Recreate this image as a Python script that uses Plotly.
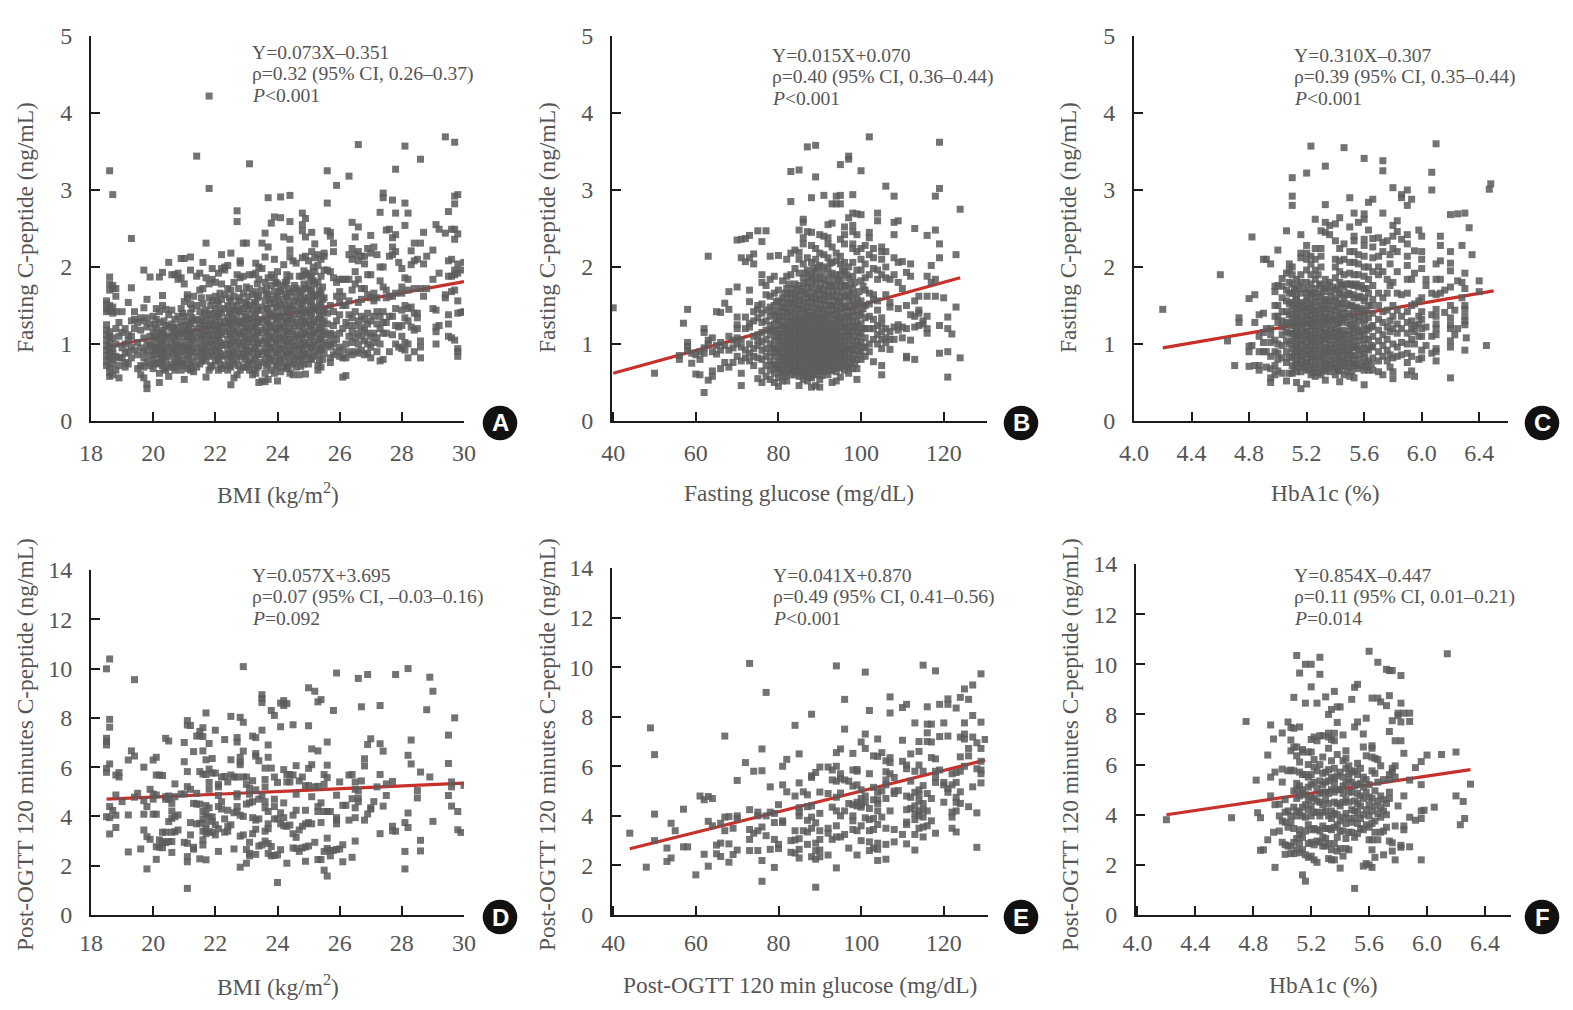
import plotly.graph_objects as go

# Each panel: columns of (x value, [y values])
A_COLS = [
(18.5,[.72,.78,.85,.92,.98,1.05,1.12,1.18,1.25,1.42,1.46,1.52,1.56]),
(18.6,[.58,.63,.7,.82,.9,.96,1.02,1.1,1.16,1.43,1.5,1.7,1.78,1.87,3.25]),
(18.7,[.6,.74,.8,.88,.94,1.08,1.4,1.48,1.72,1.76,2.94]),
(18.8,[.66,.84,1.0,1.2,1.42,1.62,1.72]),(18.9,[.56,.72,.82,1.1,1.28]),(19.0,[.82,.95,1.15,1.42]),
(19.1,[.7,.76,.88,1.0,1.2]),(19.2,[.74,.9,1.05,1.12,1.54]),(19.3,[.82,.96,1.1,1.3,1.73,2.37]),
(19.4,[.92,1.2,1.32,1.42]),(19.5,[.68,.86,1.02,1.28]),(19.6,[.6,.72,.95,1.18,1.34]),
(19.7,[.56,.7,.82,.9,1.08,1.3,1.47,1.96]),(19.8,[.42,.48,.76,.92,1.0,1.22,1.34,1.58]),
(19.9,[.72,.85,.98,1.1,1.26,1.87]),(20.0,[.68,.8,.9,1.02,1.16,1.36]),
(20.1,[.74,.86,.96,1.08,1.2,1.32,1.46]),(20.2,[.5,.62,.76,.88,1.0,1.12,1.28,1.42,1.87]),
(20.3,[.72,.82,.94,1.05,1.18,1.5,1.63,1.93]),(20.4,[.66,.78,.9,1.0,1.1,1.24,1.45]),
(20.5,[.58,.7,.84,.96,1.08,1.22,1.38,2.06]),(20.6,[.74,.88,1.0,1.14,1.26,1.44,1.9]),
(20.7,[.66,.8,.92,1.04,1.18,1.32,1.9]),(20.8,[.72,.84,.96,1.1,1.22,1.36,1.84,1.92]),
(20.9,[.66,.78,.9,1.02,1.14,1.28,1.46,1.86,2.11]),(21.0,[.54,.72,.86,.98,1.1,1.24,1.36,1.55,1.78,2.11]),
(21.1,[.68,.8,.92,1.06,1.18,1.3,1.6,1.64]),(21.2,[.66,.74,.88,1.0,1.12,1.26,1.4,1.52,1.96,2.13]),
(21.3,[.64,.78,.9,1.04,1.16,1.3,1.62]),(21.4,[.7,.84,.96,1.08,1.2,1.32,1.5,1.88,3.44]),
(21.5,[.74,.88,1.0,1.14,1.26,1.42,1.7,1.92]),(21.6,[.82,.94,1.06,1.2,1.34,1.52,1.72,2.06]),
(21.7,[.57,.78,.9,1.02,1.16,1.3,1.44,1.86,2.31]),(21.8,[.66,.84,.96,1.1,1.24,1.38,1.6,1.78,3.02,4.22]),
(21.9,[.72,.86,1.0,1.12,1.26,1.4,1.56,1.84,1.98]),(22.0,[.78,.92,1.04,1.18,1.3,1.46,1.62,1.8]),
(22.1,[.66,.8,.94,1.08,1.2,1.36,1.52,1.92]),(22.2,[.68,.84,.98,1.12,1.24,1.4,1.58,1.78,1.98,2.16]),
(22.3,[.72,.86,1.0,1.16,1.3,1.46,1.64,1.96,2.0]),(22.4,[.66,.8,.94,1.06,1.2,1.34,1.5,1.72,2.02]),
(22.5,[.47,.7,.84,.98,1.12,1.26,1.4,1.56,1.7,2.18]),(22.6,[.56,.74,.88,1.02,1.16,1.3,1.44,1.62,1.8]),
(22.7,[.6,.8,.94,1.08,1.22,1.36,1.5,1.9,2.59,2.73]),(22.8,[.66,.84,.98,1.12,1.26,1.42,1.6,1.86,2.05,2.08]),
(22.9,[.7,.88,1.02,1.16,1.3,1.46,1.66,1.88,2.31]),(23.0,[.7,.84,.96,1.1,1.24,1.38,1.54,1.74,2.31]),
(23.1,[.66,.78,.92,1.06,1.2,1.34,1.5,1.72,1.9,3.34]),(23.2,[.6,.74,.88,1.02,1.14,1.28,1.44,1.64,1.9]),
(23.3,[.62,.8,.94,1.08,1.22,1.36,1.52,1.68,1.92,2.05]),(23.4,[.5,.72,.86,1.0,1.14,1.28,1.44,1.62,1.84,2.0]),
(23.5,[.52,.76,.9,1.04,1.18,1.32,1.48,1.7,1.98,2.31]),(23.6,[.51,.62,.8,.94,1.08,1.22,1.38,1.56,1.8,2.13,2.44]),
(23.7,[.54,.74,.88,1.02,1.16,1.3,1.46,1.64,1.86,2.26,2.9]),(23.8,[.66,.82,.96,1.1,1.24,1.4,1.58,1.76,1.9,2.57]),
(23.9,[.62,.78,.92,1.06,1.2,1.36,1.52,1.68,1.86,2.1,2.65]),(24.0,[.52,.7,.86,1.0,1.14,1.28,1.44,1.6,1.78,1.94]),
(24.1,[.64,.8,.94,1.08,1.22,1.36,1.5,1.7,2.64,2.91]),(24.2,[.7,.84,.98,1.12,1.26,1.42,1.58,1.76,2.03,2.39]),
(24.3,[.68,.88,1.02,1.16,1.3,1.46,1.62,1.82,1.9]),(24.4,[.62,.78,.92,1.06,1.2,1.34,1.48,1.66,1.88,2.13,2.22,2.36,2.59,2.93]),
(24.5,[.6,.74,.88,1.02,1.16,1.32,1.5,1.68,2.08]),(24.6,[.7,.84,.98,1.12,1.28,1.44,1.6,1.72,2.05]),
(24.7,[.6,.78,.92,1.06,1.22,1.38,1.54,1.68,1.88]),(24.8,[.8,.94,1.08,1.22,1.36,1.52,1.7,1.88,2.12,2.47,2.55,2.7]),
(24.9,[.61,.84,.98,1.12,1.26,1.4,1.56,1.72,1.9,2.14,2.39,2.63]),(25.0,[.74,.88,1.02,1.16,1.3,1.44,1.6,1.76,1.92,2.08]),
(25.1,[.8,.96,1.1,1.24,1.4,1.56,1.7,1.88,2.2,2.45]),(25.2,[.9,1.04,1.18,1.32,1.46,1.62,1.78,1.94,2.12,2.3]),
(25.3,[.66,.72,.86,1.0,1.14,1.28,1.44,1.62,1.8,2.02,2.16]),(25.4,[.7,.92,1.06,1.2,1.34,1.5,1.66,1.88,2.1]),
(25.5,[.88,1.02,1.16,1.3,1.44,1.6,1.96,2.14,2.18]),(25.6,[.98,1.12,1.26,1.4,1.96,2.47,2.83,3.25]),
(25.7,[.76,.82,.96,1.04,1.14,1.5,1.94,2.45,2.4]),(25.8,[.86,1.0,1.12,1.24,1.42,1.86,2.31,2.2]),
(25.9,[.9,1.06,1.3,1.62,1.8,3.06]),(26.0,[.84,.96,1.14,1.38,1.54,1.68,1.84]),
(26.1,[.57,.82,.92,1.2,1.5,1.62,1.84]),(26.2,[.59,.82,1.0,1.28,1.5,1.84]),(26.3,[.9,1.1,1.24,1.38,1.56,1.84,2.16,3.18]),
(26.4,[.86,1.02,1.16,1.34,1.7,2.1,2.24,2.58]),(26.5,[.9,1.08,1.24,1.42,1.78,1.94,2.16,2.39]),
(26.6,[.88,1.0,1.14,1.3,1.54,1.84,2.08,2.2,2.52,3.59]),(26.7,[.92,1.1,1.22,1.36,1.58,1.72,2.14]),
(26.8,[.86,1.04,1.18,1.32,1.72,2.04,2.14]),(26.9,[.88,1.0,1.14,1.26,1.4,1.64,1.9,2.24]),
(27.0,[.82,.96,1.1,1.3,1.6,1.9,2.18,2.41]),(27.1,[1.02,1.14,1.36,1.56,1.66,2.26]),
(27.2,[.9,1.08,1.26,1.42,1.6,2.16]),(27.3,[.78,1.0,1.2,1.36,1.82,2.0,2.71]),(27.4,[.8,1.14,1.28,1.42,1.74,2.0,2.9,2.96]),
(27.5,[1.14,1.28,1.6,1.7,2.48]),(27.6,[.9,1.36,1.62,2.14,2.49]),(27.7,[1.12,1.36,1.62,2.16,2.26,2.38,2.87]),
(27.8,[1.0,1.24,1.46,1.66,2.2,2.42,2.7,3.27]),(27.9,[.96,1.22,2.06]),(28.0,[.94,1.1,1.24,1.44,1.66,1.74,1.98]),
(28.1,[.92,1.02,1.34,1.5,1.86,2.54,2.83,3.57]),(28.2,[.82,1.0,1.3,1.46,1.7,1.84,2.7]),(28.3,[1.22,1.48,2.03,2.21]),
(28.4,[.9,1.18,1.4,1.72,2.08,2.31]),(28.5,[1.2,1.34,1.4,2.1]),(28.6,[.82,.96,1.04,1.72,2.31,3.4]),
(28.7,[1.62,2.04,2.45]),(28.8,[1.72,2.14]),(29.0,[1.46,1.84,2.22]),(29.1,[1.16,1.44,1.0,1.22,2.55]),
(29.2,[1.24,1.92,2.49]),(29.4,[1.6,1.64,2.44,3.69]),(29.5,[1.1,1.26,1.38,1.88,2.08,2.72]),
(29.6,[1.08,1.68,1.88,2.1,2.49]),(29.7,[1.05,1.7,1.9,1.96,2.36,2.49,2.82,2.92,3.62]),
(29.8,[.84,.9,.94,1.4,1.56,1.92,2.04,2.43,2.94]),(29.9,[1.41,1.96]),(30.0,[1.42,2.06]),
# denser middle of the cloud
(20.05,[.75,.95,1.1,1.25]),(20.35,[.68,.87,1.13,1.3]),(20.65,[.7,.93,1.09,1.21]),(20.95,[.75,.95,1.18,1.4]),
(21.25,[.7,.94,1.08,1.34,1.46]),(21.55,[.78,.91,1.1,1.3,1.6]),(21.85,[.7,.9,1.05,1.19,1.33,1.5]),(22.15,[.74,.88,1.02,1.15,1.28,1.44,1.66]),
(22.45,[.72,.87,1.0,1.13,1.27,1.42,1.6]),(22.75,[.72,.88,1.02,1.15,1.29,1.44,1.56,1.72]),(23.05,[.74,.9,1.03,1.17,1.31,1.46,1.62]),
(23.35,[.7,.87,1.01,1.15,1.29,1.44,1.6,1.78]),(23.65,[.71,.87,1.01,1.15,1.29,1.46,1.64,1.72]),(23.95,[.72,.89,1.03,1.17,1.32,1.48,1.62,1.8]),
(24.25,[.76,.91,1.05,1.19,1.34,1.5,1.66,1.8]),(24.55,[.8,.95,1.09,1.24,1.4,1.56,1.76]),(24.85,[.74,.88,1.01,1.15,1.29,1.44,1.6,1.78,1.95]),
(25.15,[.84,.99,1.14,1.28,1.48,1.64,1.82,2.0]),(25.45,[.8,.96,1.12,1.26,1.42,1.58,1.74]),
(20.25,[.8,.92,1.03,1.15]),(20.75,[.76,.87,.99,1.13]),(21.15,[.84,.96,1.1,1.22]),(21.65,[.86,.98,1.12,1.24,1.4]),
(22.05,[.85,.97,1.11,1.24,1.38,1.56]),(22.55,[.79,.91,1.05,1.19,1.33,1.48]),(22.95,[.8,.93,1.07,1.21,1.35,1.52]),
(23.25,[.67,.81,.95,1.09,1.23,1.38,1.54]),(23.75,[.8,.95,1.09,1.23,1.38,1.54]),(24.05,[.77,.93,1.07,1.21,1.35,1.53,1.68]),
(24.35,[.71,.85,.98,1.12,1.27,1.41,1.57,1.72]),(24.75,[.71,.85,.99,1.13,1.3,1.46,1.62]),(25.05,[.81,.95,1.09,1.23,1.37,1.52,1.68,1.85]),
(25.35,[.79,.93,1.07,1.21,1.37,1.53,1.7]),
]
A_LINE_X = [18.7, 30]
A_LINE_Y = [0.98, 1.81]

B_COLS = [
(40,[1.47]),(50,[.62]),(56,[.8,.85]),(57,[1.27]),(58,[.92,.97,1.02,1.45]),(59,[.75,.88]),
(60,[.61,.86]),(61,[.6,.8,.9]),(62,[.37,.88,.95,1.15,1.2]),(63,[.53,1.0,1.05,2.14]),(64,[.58,.65,.9,1.08]),
(65,[.87,.98,1.42]),(66,[.68,.92,1.02,1.41]),(67,[.76,.98,1.53]),(68,[.7,.92,1.1,1.45,1.68]),(69,[.76,.95,1.05]),
(70,[.84,1.0,1.08,1.2,1.25,1.35,1.74,2.35]),(71,[.46,.62,.78,.96,1.05,2.12,2.36]),(72,[.82,.92,1.2,1.35,2.07,2.37]),
(73,[.78,.88,1.0,1.22,1.27,1.55,1.7,2.12,2.41]),(74,[.72,.84,.94,1.1,1.42,1.3,2.04,2.17]),
(75,[.55,.82,.98,1.05,1.12,1.34,1.45,1.5,2.47]),(76,[.5,.65,.8,.92,1.03,1.15,1.28,1.4,1.52,1.8,1.9,2.33]),
(77,[.58,.72,.84,.94,1.06,1.18,1.3,1.44,1.64,1.76,2.47]),(78,[.54,.66,.78,.88,1.0,1.12,1.24,1.36,1.48,1.62,1.84,2.14]),
(79,[.5,.62,.74,.84,.94,1.04,1.16,1.26,1.38,1.5,1.66,1.88]),(80,[.45,.56,.68,.78,.88,.98,1.08,1.18,1.3,1.42,1.56,1.7,2.15]),
(81,[.52,.64,.74,.84,.94,1.04,1.14,1.24,1.36,1.48,1.6,1.82]),(82,[.52,.62,.72,.82,.92,1.02,1.12,1.22,1.34,1.46,1.58,1.72,1.88,2.1]),
(83,[.6,.7,.8,.9,1.0,1.1,1.2,1.3,1.42,1.54,1.66,1.9,2.18,2.85,3.24]),(84,[.6,.7,.8,.9,1.0,1.1,1.2,1.3,1.4,1.52,1.64,1.78,1.98,2.22]),
(85,[.46,.58,.68,.78,.88,.98,1.08,1.18,1.28,1.38,1.5,1.62,1.76,1.92,2.1,2.19,2.48,3.26]),
(86,[.54,.64,.74,.84,.94,1.04,1.14,1.24,1.34,1.46,1.58,1.72,1.86,2.04,2.3,2.38,2.58,2.62]),
(87,[.52,.62,.72,.82,.92,1.02,1.12,1.22,1.32,1.42,1.54,1.66,1.8,1.96,2.12,2.46,3.56]),
(88,[.44,.56,.66,.76,.86,.96,1.06,1.16,1.26,1.36,1.48,1.6,1.74,1.9,2.06,2.28,2.45,2.9]),
(89,[.46,.6,.7,.8,.9,1.0,1.1,1.2,1.3,1.4,1.52,1.64,1.78,1.94,2.1,2.24,3.17,3.58]),
(90,[.44,.54,.66,.76,.86,.96,1.06,1.16,1.26,1.36,1.46,1.58,1.72,1.86,2.02,2.18,2.42]),
(91,[.64,.74,.84,.94,1.04,1.14,1.24,1.34,1.44,1.56,1.7,1.84,2.0,2.16,2.4,2.93]),
(92,[.6,.72,.82,.92,1.02,1.12,1.22,1.32,1.44,1.56,1.68,1.82,1.98,2.12,2.3,2.38,2.55]),
(93,[.5,.66,.76,.86,.96,1.06,1.16,1.26,1.38,1.5,1.62,1.76,1.92,2.06,2.26,2.57,2.82]),
(94,[.52,.64,.74,.84,.94,1.04,1.14,1.24,1.36,1.48,1.62,1.76,1.9,2.08,2.18,2.82,2.92]),
(95,[.57,.7,.8,.9,1.0,1.1,1.22,1.34,1.46,1.6,1.74,1.9,2.04,2.14,2.36,2.82,2.93,3.33]),
(96,[.66,.78,.88,.98,1.1,1.22,1.34,1.48,1.62,1.76,1.94,2.06,2.3,2.42,2.52]),
(97,[.62,.7,.82,.94,1.06,1.18,1.3,1.42,1.56,1.7,1.86,2.0,2.64,3.4,3.44]),
(98,[.68,.8,.92,1.04,1.16,1.28,1.42,1.56,1.72,1.88,2.06,2.24,2.3,2.46,2.54,2.7,2.94]),
(99,[.54,.68,.8,.92,1.04,1.16,1.3,1.44,1.6,1.96,2.2,2.42,2.69]),
(100,[.8,.9,1.02,1.14,1.26,1.4,1.56,1.82,1.96,2.1,2.24,2.68,3.25]),
(101,[.84,.96,1.08,1.2,1.34,1.5,1.7,1.86,2.04,2.28]),(102,[.9,1.0,1.2,1.36,1.52,1.66,1.9,2.16,2.38,2.45,3.69]),
(103,[.77,1.06,1.2,1.32,1.58,1.64,1.98,2.12,2.24]),(104,[1.0,1.12,1.24,1.44,1.56,1.84,1.96,2.6,2.7]),
(105,[.6,.72,.94,1.06,1.16,1.26,1.34,1.9,2.1,2.2,2.26]),(106,[1.02,1.08,1.2,1.64,1.86,2.0,2.2,3.05]),
(107,[.93,1.06,1.16,1.48,1.54,1.84]),(108,[1.06,1.22,1.9,2.12,2.42,2.58,2.92]),
(109,[1.18,1.25,1.46,1.8,2.06,2.6]),(110,[1.08,1.22,1.72,2.07]),(111,[.82,.84,1.2,1.5,1.93]),
(112,[1.05,1.38,1.88,2.04]),(113,[.8,1.22,1.36,1.56,2.5]),(114,[1.24,1.4,1.44,1.62]),
(115,[1.3,1.26]),(116,[1.14,1.2,1.36,1.62,1.88,2.41]),(117,[1.8,2.02]),(118,[1.62,1.84,2.48,2.92]),
(119,[.88,1.24,2.12,2.3,3.02,3.62]),(120,[1.6]),(121,[.57,.9,1.2,1.35]),(122,[1.13]),(123,[1.48,2.16]),(124,[.82,2.75]),
# denser core of the cloud
(78.5,[.72,.95,1.18,1.42]),(79.5,[.68,.9,1.1,1.32,1.55]),(80.5,[.62,.83,1.03,1.24,1.47]),(81.5,[.58,.79,.99,1.19,1.42,1.66]),
(82.5,[.67,.87,1.07,1.28,1.52,1.78]),(83.5,[.65,.85,1.05,1.25,1.48,1.72]),(84.5,[.65,.85,1.05,1.25,1.46,1.7]),
(85.5,[.63,.83,1.03,1.23,1.44,1.68]),(86.5,[.59,.79,.99,1.19,1.4,1.65,1.92]),(87.5,[.57,.77,.97,1.17,1.37,1.6,1.87]),
(88.5,[.61,.81,1.01,1.21,1.42,1.67,1.98]),(89.5,[.65,.85,1.05,1.25,1.46,1.7,2.0]),(90.5,[.59,.79,.99,1.19,1.39,1.64,1.92]),
(91.5,[.69,.89,1.09,1.29,1.5,1.77]),(92.5,[.66,.87,1.07,1.27,1.5,1.75,2.05]),(93.5,[.71,.91,1.11,1.32,1.56,1.84]),
(94.5,[.69,.89,1.09,1.3,1.55,1.83]),(95.5,[.75,.95,1.16,1.4,1.67,1.97]),(96.5,[.72,.93,1.14,1.36,1.62,1.9]),
(97.5,[.76,.98,1.22,1.49,1.78]),(98.5,[.74,.98,1.22,1.5,1.8]),(99.5,[.86,1.1,1.37,1.68]),(100.5,[.96,1.2,1.46,1.75]),
(80.2,[.73,.93,1.13,1.36]),(81.2,[.69,.89,1.09,1.3,1.54]),(82.2,[.77,.97,1.17,1.4,1.65]),(83.2,[.75,.95,1.15,1.36,1.6]),
(84.2,[.75,.95,1.15,1.35,1.58]),(85.2,[.73,.93,1.13,1.33,1.56]),(86.2,[.69,.89,1.09,1.29,1.52,1.79]),(87.2,[.67,.87,1.07,1.27,1.48,1.73]),
(88.2,[.71,.91,1.11,1.31,1.54,1.82]),(89.2,[.75,.95,1.15,1.35,1.58,1.86]),(90.2,[.69,.89,1.09,1.29,1.52,1.79]),(91.2,[.79,.99,1.19,1.39,1.63]),
(92.2,[.77,.97,1.17,1.38,1.62,1.9]),(93.2,[.81,1.01,1.21,1.44,1.7]),(94.2,[.79,.99,1.19,1.42,1.69]),(95.2,[.85,1.05,1.28,1.53,1.82]),
(96.2,[.83,1.04,1.25,1.49,1.76]),(97.2,[.88,1.1,1.35,1.63]),(98.2,[.86,1.1,1.36,1.65]),(99.2,[.98,1.23,1.52]),
]
B_LINE_X = [40, 124]
B_LINE_Y = [0.62, 1.86]

C_COLS = [
(4.2,[1.45]),(4.6,[1.9]),(4.65,[1.04]),(4.7,[.72]),(4.73,[1.28,1.34]),(4.8,[.71,.9,.97,1.59]),(4.82,[.98,2.39]),
(4.84,[.72,1.28,1.64]),(4.87,[.66,.72,.9,1.1,1.38]),(4.9,[.9,1.02,1.15,1.4,2.1]),(4.92,[.7,.9,1.2,2.1]),
(4.95,[.5,.56,.68,.84,1.02,1.12,1.2,2.04]),(4.98,[.6,.72,.9,1.05,1.36,1.5,1.68,1.75]),
(5.0,[.65,.8,.88,1.0,1.28,1.36,1.5,1.76,2.22]),(5.03,[.62,.82,.98,1.12,1.22,1.3,1.42,1.6,1.75,1.85]),
(5.06,[.52,.76,.9,1.04,1.16,1.28,1.42,1.56,1.7,1.92,2.47]),(5.08,[.62,.82,1.0,1.14,1.26,1.38,1.52,1.66,1.8,1.96,2.04]),
(5.1,[.62,.72,.84,.94,1.04,1.14,1.24,1.34,1.44,1.54,1.66,1.78,1.9,2.0,2.8,2.92,3.16]),
(5.13,[.5,.64,.76,.86,.96,1.06,1.16,1.26,1.36,1.46,1.58,1.7,1.84]),
(5.16,[.42,.64,.74,.84,.94,1.04,1.14,1.24,1.34,1.44,1.54,1.66,1.8,1.9,2.12,2.42,2.18]),
(5.2,[.48,.66,.76,.86,.96,1.06,1.16,1.26,1.36,1.46,1.56,1.66,1.8,1.96,2.1,2.18,2.28,3.22]),
(5.23,[.6,.72,.82,.92,1.02,1.12,1.22,1.32,1.42,1.52,1.64,1.78,1.9,2.04,2.14,3.57]),
(5.26,[.58,.68,.78,.88,.98,1.08,1.18,1.28,1.38,1.48,1.6,1.72,1.84,1.96,2.1,2.24,2.62]),
(5.3,[.6,.7,.8,.9,1.0,1.1,1.2,1.3,1.4,1.5,1.62,1.76,2.0,2.14,2.24,2.47]),
(5.33,[.53,.66,.76,.86,.96,1.06,1.16,1.26,1.36,1.46,1.58,1.72,1.84,2.45,2.58,2.81,3.31]),
(5.36,[.64,.74,.84,.94,1.04,1.14,1.24,1.34,1.44,1.56,1.68,1.8,2.42,2.54]),
(5.4,[.6,.7,.8,.9,1.0,1.1,1.2,1.32,1.44,1.56,1.7,1.86,2.0,2.1,2.34,2.56]),
(5.43,[.51,.66,.76,.86,.96,1.06,1.16,1.28,1.4,1.52,1.66,1.8,1.94,2.08,2.24,2.64]),
(5.46,[.6,.72,.82,.92,1.02,1.12,1.34,1.46,1.6,1.74,1.9,2.1,2.3,3.55]),
(5.5,[.58,.7,.8,.9,1.0,1.12,1.24,1.36,1.5,1.64,1.78,1.92,2.06,2.2,2.52,2.9]),
(5.53,[.56,.72,.84,.96,1.08,1.2,1.32,1.46,1.6,1.76,1.9,2.06,2.2,2.4,2.34,2.7]),
(5.56,[.68,.8,.92,1.04,1.16,1.3,1.44,1.6,1.74,1.9,2.04,2.16,2.58]),
(5.6,[.47,.66,.76,.88,1.0,1.12,1.26,1.4,1.56,1.72,1.88,2.0,2.14,2.28,2.36,2.62,2.69,3.41]),
(5.63,[.66,.78,.92,1.06,1.2,1.34,1.5,1.66,1.84,2.0,2.48,2.84]),
(5.66,[.66,.82,.96,1.1,1.24,1.4,1.58,1.76,1.94,2.12,2.26,2.37,2.88]),
(5.7,[.64,.78,.9,1.04,1.18,1.32,1.5,1.66,1.9,2.0,2.14,2.38]),
(5.73,[.6,.84,.98,1.12,1.28,1.42,1.6,1.94,2.2,2.32,2.7,3.25,3.38]),
(5.76,[.78,.92,1.06,1.22,1.44,1.66,1.84,2.34]),(5.78,[.7,.86,1.16,1.3,1.76,2.04,2.16]),
(5.8,[.55,.64,.82,1.0,1.2,1.36,1.5,1.8,2.24,2.4,2.54,3.03]),(5.83,[.84,.96,1.14,1.26,1.44,1.66,1.94,2.2,2.46,2.6]),
(5.86,[.86,1.02,1.2,1.36,1.64,2.36,2.9,2.94]),(5.9,[.6,.76,.88,1.0,1.14,1.28,1.42,1.66,1.84,2.02,2.14,2.3,2.42,2.8,3.0]),
(5.93,[.65,.84,1.06,1.2,1.3,1.5,1.84,2.88]),(5.95,[.58,1.0,1.16,1.24,1.52,1.92,2.21]),
(5.98,[.8,1.1,1.26,1.36,1.56,2.48]),(6.0,[.82,.92,1.1,1.2,1.32,1.42,1.6,1.98,2.1,2.2,2.4]),
(6.03,[.98,1.22,1.76,1.84]),(6.07,[.88,1.1,1.38,1.66,3.0,3.23]),(6.1,[.78,.9,.94,1.12,1.2,1.26,1.36,1.45,1.64,1.84,2.04,3.6]),
(6.13,[1.66,1.84,2.08,2.28,2.4]),(6.16,[1.41,1.7]),(6.2,[.56,.96,1.04,1.25,1.2,1.34,1.5,1.74,1.95,2.05,2.2,2.68]),
(6.23,[1.12,1.44]),(6.25,[1.2,1.82,2.69]),(6.3,[.92,1.25,1.3,1.36,1.45,1.5,1.72,1.92,2.7]),
(6.31,[1.08]),(6.33,[2.51]),(6.35,[2.16]),(6.28,[1.6,1.8,2.28]),(6.4,[1.68,1.82]),(6.45,[.98]),(6.47,[3.01]),(6.48,[3.08]),
# denser core of the cloud
(5.115,[.69,.89,1.09,1.29,1.5,1.72]),(5.145,[.7,.9,1.11,1.31,1.52,1.76]),(5.18,[.7,.9,1.1,1.3,1.5,1.72]),(5.215,[.67,.87,1.07,1.27,1.47,1.7]),
(5.245,[.63,.83,1.03,1.23,1.43,1.66]),(5.28,[.63,.83,1.03,1.23,1.43,1.66,1.9]),(5.315,[.65,.85,1.05,1.25,1.45,1.68]),(5.345,[.71,.91,1.11,1.31,1.52,1.76]),
(5.38,[.69,.89,1.09,1.29,1.5,1.74]),(5.415,[.65,.85,1.05,1.26,1.48,1.72]),(5.445,[.71,.91,1.11,1.3,1.53,1.77]),(5.48,[.65,.86,1.06,1.28,1.52,1.78]),
(5.515,[.64,.85,1.05,1.26,1.5,1.77]),(5.545,[.74,.98,1.22,1.48,1.78]),(5.58,[.72,.94,1.18,1.46,1.76]),(5.615,[.7,.94,1.18,1.44,1.72]),
(5.65,[.74,.98,1.22,1.5]),
(5.125,[.79,.99,1.19,1.4,1.62]),(5.17,[.8,1.0,1.2,1.41]),(5.205,[.77,.97,1.17,1.37,1.6]),(5.25,[.73,.93,1.13,1.33,1.55]),
(5.29,[.73,.93,1.13,1.33,1.55,1.78]),(5.325,[.75,.95,1.15,1.35,1.56]),(5.37,[.79,.99,1.19,1.4,1.62]),(5.405,[.75,.95,1.15,1.37,1.6]),
(5.45,[.78,.98,1.18,1.4,1.64]),(5.49,[.75,.95,1.16,1.4,1.66]),(5.525,[.75,.95,1.15,1.38,1.64]),(5.57,[.86,1.1,1.35,1.62]),(5.605,[.82,1.06,1.32,1.6]),
]
C_LINE_X = [4.2, 6.5]
C_LINE_Y = [0.95, 1.69]

D_COLS = [
(18.5,[3.99,5.79,5.95,6.9,7.04,7.17,9.99]),(18.6,[3.29,3.95,4.4,6.13,7.62,7.94,10.39]),(18.7,[4.24]),
(18.8,[3.55,4.05,4.87,5.68]),(18.9,[5.6,5.78]),(19.0,[4.6]),(19.2,[2.56,4.06,6.29]),(19.3,[6.66]),
(19.4,[4.78,6.45,9.55]),(19.5,[4.94]),(19.6,[2.68]),(19.7,[3.45,4.09,4.64,6.0]),(19.8,[1.87,3.18,4.4]),
(19.9,[3.07,5.1]),(20.0,[4.09,4.7,4.91,6.29]),(20.1,[2.26,2.77,4.09,4.87,5.68,6.4]),(20.2,[2.75,3.05,5.68]),
(20.3,[2.73,2.98,3.36,5.66]),(20.4,[2.94,3.36,4.7,4.8,7.17]),(20.5,[2.98,3.79,4.7,4.83,7.06]),
(20.6,[2.54,2.98,3.36,3.92,4.22,4.53]),(20.7,[3.38,3.99,4.8,5.32]),(20.8,[3.45,4.06]),(20.9,[4.91]),
(21.0,[2.95,4.91,6.22,7.0]),(21.1,[1.08,2.16,2.37,2.91,5.21,5.82,7.71,7.89]),(21.2,[3.25,3.75,5.1,7.69]),
(21.3,[2.67,2.75,4.53,6.63]),(21.4,[3.7,4.5,4.94,7.26]),(21.5,[2.28,3.72,4.5,5.82,7.28,7.45]),
(21.6,[2.84,3.05,3.4,3.9,4.2,5.72,6.66,7.24,7.6]),(21.7,[2.24,3.3,3.48,3.7,4.1,4.44,5.7,6.3,8.2]),
(21.8,[3.38,3.98,4.35,5.1,5.38,5.92,6.96]),(21.9,[3.35,3.8,3.98,5.76,6.35]),(22.0,[3.25,3.66,5.76,7.5]),
(22.1,[2.58,3.5,4.4,4.85,5.2,5.3]),(22.2,[4.3,4.6,5.6]),(22.3,[3.36,3.9,7.12,5.62]),(22.4,[3.4,3.6,4.25,5.4]),
(22.5,[3.66,5.68,6.3,8.06]),(22.6,[2.68,4.15,5.6]),(22.7,[4.2,4.4,4.8,4.92,7.02,7.2,5.6]),
(22.8,[1.94,3.2,4.05,6.1,6.2,6.4,8.02]),(22.9,[3.25,4.0,5.6,6.65,7.82,10.08]),(23.0,[2.1,2.66,4.5,5.3,5.6]),
(23.1,[2.4,2.5,2.95,4.55,4.9,5.15]),(23.2,[3.3,3.95,4.6,5.45,7.26]),(23.3,[2.46,3.48,3.85,5.08,6.45,6.55,7.2]),
(23.4,[2.8,3.9,4.7,6.26]),(23.5,[2.84,4.85,7.5,8.62,8.78,8.94]),(23.6,[3.0,3.4,4.35,4.6,5.2,5.5,5.96]),
(23.7,[2.5,2.9,3.5,3.7,4.2,6.4,6.9]),(23.8,[2.4,2.78,5.96,8.3]),(23.9,[2.42,3.9,4.4,4.7,5.6,8.1]),
(24.0,[1.32,2.44,3.9,5.38]),(24.1,[2.65,3.7,4.15,7.64,8.6]),(24.2,[3.62,3.95,4.55,5.9,8.5,8.7]),
(24.3,[2.1,3.6,5.4,5.7,8.58]),(24.4,[3.65,5.4,5.7]),(24.5,[2.72,3.3,4.05,5.68,7.72]),(24.6,[2.7,3.15,4.25,4.9,6.06]),
(24.7,[2.58,3.45,5.44]),(24.8,[3.6,2.72,5.6]),(24.9,[2.18,2.76,3.7,4.25,5.25]),(25.0,[2.8,3.75,5.25,5.95,7.68,9.22]),
(25.1,[3.7,4.8,6.1,6.74]),(25.2,[2.95,5.2,9.08]),(25.3,[2.25,4.2,4.4,5.22,6.66,8.65]),(25.4,[2.25,3.75,4.55,8.74]),
(25.5,[1.82,2.58,4.2,5.3,5.7]),(25.6,[1.58,2.7,3.12,4.2,5.58,6.08,7.02]),(25.7,[2.4,2.62,4.2]),
(25.8,[2.62,8.3]),(25.9,[2.66,3.7,3.86,3.95,4.86,9.82]),(26.0,[2.68,5.4]),(26.1,[2.16,2.85,4.45]),
(26.2,[4.45]),(26.3,[3.85,5.68]),(26.4,[2.34,4.72,5.7]),(26.5,[3.0,3.95,4.35,5.1,5.4]),(26.6,[4.6,4.75,5.05,9.6]),
(26.7,[5.44,8.45]),(26.8,[3.85,6.05,6.34]),(26.9,[4.1,6.92,9.76]),(27.0,[4.3,4.35,7.15]),(27.1,[4.6]),
(27.2,[5.2]),(27.3,[3.3,5.7,6.95,8.5]),(27.4,[4.42,6.65]),(27.5,[4.85,5.32]),(27.7,[3.42,3.6,5.42]),(27.8,[3.4,9.76]),
(28.1,[1.87,2.58,3.75]),(28.2,[3.55,4.14,6.48,10.0]),(28.3,[6.13,7.1]),(28.5,[4.75,5.05]),(28.6,[2.6,3.03,5.8]),
(28.8,[8.33]),(28.9,[5.6,9.65]),(29.0,[3.8,9.08]),(29.5,[4.85,6.15,7.3]),(29.6,[4.42,5.2,5.4]),(29.7,[8.0]),(29.8,[3.46,4.2]),(29.9,[3.35]),(30.0,[5.26]),
]
D_LINE_X = [18.5, 30]
D_LINE_Y = [4.7, 5.35]

E_COLS = [
(44,[3.3]),(48,[1.93]),(49,[7.55]),(50,[3.0,4.07,6.47]),(53,[2.16,2.7]),(54,[2.3,3.7]),(55,[3.4]),(57,[2.75,4.27]),(58,[2.75]),
(60,[1.62]),(61,[4.8]),(62,[2.45,4.65]),(63,[1.97,3.78,4.78]),(64,[3.6,4.7]),(65,[2.47,2.82]),(66,[2.36,2.9,3.7]),
(67,[3.4,3.95,7.22]),(68,[2.13,2.87,3.97]),(69,[2.44,3.5]),(70,[2.62,3.9,4.0,5.43]),(72,[6.15]),(73,[2.6,3.05,3.45,4.25,10.15]),
(74,[3.3,5.8]),(75,[2.6,3.4,4.15,4.0]),(76,[1.36,2.2,3.55,5.82,6.7]),(77,[3.2,4.0,8.98]),(78,[2.65,4.15,5.17]),
(79,[1.92,3.05,3.73,4.1]),(80,[2.68,2.85,4.45]),(81,[3.73,3.8,5.25,6.0]),(82,[4.97,6.28]),(83,[2.53,3.0]),
(84,[2.5,3.03,3.4,4.8,7.65]),(85,[2.3,2.65,3.08,4.0,4.15,4.33,5.33,6.5]),(86,[3.4,4.97]),(87,[2.85,3.35,3.82,4.37,4.85]),
(88,[2.35,3.5,3.95,4.4,5.55,5.62,8.1]),(89,[1.12,2.25,2.6,2.9,3.72,5.75]),(90,[2.35,2.62,3.05,3.4,4.1,4.96,5.97]),
(92,[2.42,3.3,3.5,4.9,5.97]),(93,[3.05,4.35,5.45,5.85]),(94,[1.9,3.15,3.6,4.2,4.75,5.4,6.0,6.55,10.05]),
(95,[3.15,4.0,4.92,5.5,5.7,6.7]),(96,[3.25,4.2,5.45,7.5,8.7]),(97,[2.7,4.5,5.4]),(98,[3.45,3.8,4.0,4.45,5.2,5.85,6.52]),
(99,[2.42,3.4,4.4,4.55,5.25,5.8,5.87]),(100,[3.0,3.6,4.35,4.7,5.05,4.45,6.98]),(101,[3.92,4.55,4.8,6.72,7.3,9.8]),
(102,[2.6,2.95,3.4,3.85,4.3,5.7,8.25]),(103,[2.7,3.45,3.9,4.65,5.15,6.42]),(104,[2.2,2.65,2.9,3.65,4.2,4.5,4.65,4.95,6.4,7.1]),
(105,[3.95,5.0,6.55]),(106,[2.25,2.85,3.5,4.7,5.25,5.45,5.78,6.22]),(107,[4.2,5.7,6.15,6.35,8.15,8.8]),
(108,[2.95,3.45,4.9,5.0,5.55]),(109,[5.02]),(110,[3.25,7.05,8.37,6.2]),(111,[2.87,3.65,3.75,4.25,4.8,5.9,6.05,8.5]),
(112,[4.3,4.75,5.4,6.5]),(113,[2.62,3.25,3.85,4.1,4.4,4.95,5.8,7.75]),(114,[3.5,4.0,4.2,4.6,4.85,5.05,6.05,6.6,7.0]),
(115,[3.15,3.55,3.95,4.25,4.5,5.22,5.8,10.08]),(116,[3.6,4.2,4.9,7.0,7.35,7.7,8.4]),(117,[3.8,4.7,6.35,7.7,6.98]),
(118,[3.3,5.35,5.55,5.8,6.3,9.85]),(119,[5.85,7.2,8.5]),(120,[4.55,5.25,5.35,7.75]),(121,[4.95,5.1,7.22,8.5,8.72]),
(122,[3.5,3.95,4.15,5.25,5.7]),(123,[3.35,4.2,4.55,4.75,5.35,5.75,8.35]),(124,[4.5,4.97,5.8,6.38,7.18,8.78]),
(125,[6.0,7.1,7.3,7.75,9.12]),(126,[4.37,6.42,6.72,8.7]),(127,[5.17,7.18,8.05,9.28]),(128,[2.73,4.12,5.9,6.95]),
(129,[5.33,5.7,5.85,6.2,6.72,7.78,9.73]),(130,[7.08]),
]
E_LINE_X = [44, 130]
E_LINE_Y = [2.67, 6.25]

F_COLS = [
(4.2,[3.8]),(4.65,[3.88]),(4.75,[7.72]),(4.82,[5.38]),(4.83,[4.08]),(4.85,[2.58,3.88]),(4.87,[2.6]),
(4.9,[3.0,6.38]),(4.92,[4.75,5.5,7.58]),(4.94,[3.3,7.02]),(4.95,[1.9,4.4,5.7]),(4.98,[3.35,3.95,4.42]),(5.0,[2.9,3.75,5.3,5.82,7.26]),
(5.02,[2.42,2.8,3.7,4.1,4.6]),(5.04,[2.75,3.5,4.15,5.75,7.7]),(5.06,[2.45,2.75,3.7,3.95,5.78,6.55,6.98,7.48]),
(5.08,[2.45,2.9,3.45,4.3,4.95,5.75,6.7,7.45,8.68]),(5.1,[2.6,3.05,3.95,4.15,4.65,5.0,5.25,6.35,6.7,10.35]),
(5.12,[2.48,2.85,3.2,3.4,4.1,4.75,5.15,5.7,9.65,7.5,6.1]),(5.14,[1.6,2.6,3.1,3.95,4.3,4.85,5.0,5.6,6.5,6.6]),
(5.16,[1.35,2.4,3.35,3.9,4.4,4.8,5.6,8.45,10.0]),(5.18,[2.3,2.85,3.6,4.2,4.6,5.1,5.5,6.5,6.0]),
(5.2,[2.35,2.9,3.4,3.95,4.35,4.7,5.2,5.6,6.5,7.0,9.1,10.0]),(5.22,[2.2,2.8,3.45,4.1,4.65,5.3,5.9,7.1,6.2]),
(5.24,[2.1,2.95,3.4,4.1,4.55,5.05,5.75,6.95,8.45]),(5.26,[2.9,3.35,3.95,4.5,4.85,5.35,6.0,7.15,9.6,10.28]),
(5.28,[2.75,3.1,3.55,4.1,4.4,4.9,5.2,5.65,6.3,7.15]),(5.3,[2.75,3.05,3.45,4.15,4.6,4.9,5.3,5.7,8.7]),
(5.32,[2.25,2.85,3.45,3.95,4.45,4.85,5.35,5.8,6.65,8.0,7.1,7.25]),(5.34,[2.2,2.6,3.4,3.85,4.15,5.0,5.5,6.15,7.0,8.2]),
(5.36,[2.2,2.85,3.5,4.05,4.5,4.9,5.25,5.45,5.85,6.95,7.25,8.92]),(5.38,[2.55,3.1,3.6,4.0,4.45,5.0,5.55,6.4,7.68,8.3]),
(5.4,[1.87,2.65,3.35,3.75,4.35,5.0,5.7,8.3]),(5.42,[2.35,3.35,3.9,4.5,4.85,5.15,5.5,6.15,7.18]),
(5.44,[2.65,3.05,3.65,4.05,4.6,5.25,5.85,6.55,6.25]),(5.46,[2.6,3.3,3.85,4.5,4.9,5.4,5.95,5.65]),
(5.48,[3.3,3.7,4.2,4.9,5.3,5.7,8.6]),(5.5,[1.06,3.1,3.85,4.15,4.55,5.15,5.75,7.5,9.08]),
(5.52,[3.25,3.65,4.1,4.45,4.85,5.2,5.6,6.05,7.7,9.2]),(5.54,[3.45,3.85,4.35,4.75,5.25,5.85]),
(5.56,[1.95,3.4,4.0,4.65,5.1,5.5,6.7,7.22]),(5.58,[2.05,3.6,4.2,4.9,5.4,6.35,7.85]),(5.6,[2.0,3.0,3.5,3.95,4.4,4.7,5.2,10.52]),
(5.62,[1.9,2.6,3.0,3.65,4.15,4.65,5.75,6.3,6.65,6.75,8.65]),(5.64,[2.3,3.3,3.75,4.35,4.95,5.65,6.25]),
(5.66,[3.0,4.05,4.55,5.3,6.2,8.65,10.08]),(5.68,[3.3,3.9,4.3,4.75,5.95,8.5]),(5.7,[2.4,3.35,4.15,4.6,5.4]),
(5.72,[4.0,4.45,3.5,8.35,9.8]),(5.74,[2.95,4.65,4.9,5.4,5.6,7.32,8.75,9.75]),(5.76,[2.55,2.88,5.7,5.85,7.75,9.75]),
(5.78,[2.2,3.55,5.5,5.95,6.95]),(5.8,[4.35,7.95,8.05]),(5.82,[2.7,2.78,7.7,6.95,8.45,9.55]),(5.84,[3.4,3.55,4.75,6.45,8.05]),
(5.88,[2.72,3.9,7.72,8.05,5.38]),(5.92,[3.78,5.88]),(5.96,[2.2,4.15,3.85,5.2,6.12]),(5.98,[4.18]),(6.0,[6.38]),(6.05,[4.3]),
(6.1,[6.4]),(6.14,[10.42]),(6.2,[4.75,6.5]),(6.23,[3.6]),(6.25,[4.53]),(6.26,[3.85]),(6.3,[5.22]),
]
F_LINE_X = [4.2, 6.3]
F_LINE_Y = [4.0, 5.8]

# Axis contents
Y_TICKS_TOP = [0, 1, 2, 3, 4, 5]
Y_TICKS_BOTTOM = [0, 2, 4, 6, 8, 10, 12, 14]
BMI_TICKS = [18, 20, 22, 24, 26, 28, 30]
GLUCOSE_TICKS = [40, 60, 80, 100, 120]
HBA1C_TICKS = [4.0, 4.4, 4.8, 5.2, 5.6, 6.0, 6.4]
PANEL_LETTERS = ["A", "B", "C", "D", "E", "F"]
Y_TITLES = ["Fasting C-peptide (ng/mL)"] * 3 + ["Post-OGTT 120 minutes C-peptide (ng/mL)"] * 3
X_TITLES = ["BMI (kg/m<sup>2</sup>)", "Fasting glucose (mg/dL)", "HbA1c (%)",
            "BMI (kg/m<sup>2</sup>)", "Post-OGTT 120 min glucose (mg/dL)", "HbA1c (%)"]
NOTES = [
    ["Y=0.073X–0.351", "ρ=0.32 (95% CI, 0.26–0.37)", "<i>P</i><0.001"],
    ["Y=0.015X+0.070", "ρ=0.40 (95% CI, 0.36–0.44)", "<i>P</i><0.001"],
    ["Y=0.310X–0.307", "ρ=0.39 (95% CI, 0.35–0.44)", "<i>P</i><0.001"],
    ["Y=0.057X+3.695", "ρ=0.07 (95% CI, –0.03–0.16)", "<i>P</i>=0.092"],
    ["Y=0.041X+0.870", "ρ=0.49 (95% CI, 0.41–0.56)", "<i>P</i><0.001"],
    ["Y=0.854X–0.447", "ρ=0.11 (95% CI, 0.01–0.21)", "<i>P</i>=0.014"],
]

W, H = 1573, 1010
SERIF = "Liberation Serif"
TEXT = "#555555"
AXIS = "#1c1c1c"
DOT = "rgba(92,92,92,0.86)"
RED = "#c8302a"

P = [
 dict(l=91, r=464, t=36, b=421, xr=[18, 30], yr=[0, 5], xt=BMI_TICKS, yt=Y_TICKS_TOP, nx=250, ny=52.5, tcx=278, tcy=493, ycx=25, ycy=228, xsd=9, bx=500, by=423, cols=A_COLS, lx=A_LINE_X, ly=A_LINE_Y),
 dict(l=612, r=987, t=36, b=421, xr=[39.7, 130.5], yr=[0, 5], xt=GLUCOSE_TICKS, yt=Y_TICKS_TOP, nx=770, ny=55.5, tcx=799, tcy=493, ycx=547, ycy=228, xsd=9, bx=1021, by=423, cols=B_COLS, lx=B_LINE_X, ly=B_LINE_Y),
 dict(l=1134, r=1508, t=36, b=421, xr=[4.0, 6.6], yr=[0, 5], xt=HBA1C_TICKS, yt=Y_TICKS_TOP, nx=1292, ny=55.5, tcx=1325, tcy=493, ycx=1068, ycy=228, xsd=9, bx=1542, by=423, cols=C_COLS, lx=C_LINE_X, ly=C_LINE_Y),
 dict(l=91, r=464, t=570, b=915, xr=[18, 30], yr=[0, 14], xt=BMI_TICKS, yt=Y_TICKS_BOTTOM, nx=250, ny=575.5, tcx=278, tcy=985, ycx=25, ycy=745, xsd=5, bx=500, by=917, cols=D_COLS, lx=D_LINE_X, ly=D_LINE_Y),
 dict(l=612, r=988, t=568, b=915, xr=[39.7, 130.7], yr=[0, 14], xt=GLUCOSE_TICKS, yt=Y_TICKS_BOTTOM, nx=771, ny=575.5, tcx=800, tcy=985, ycx=547, ycy=745, xsd=5, bx=1021, by=917, cols=E_COLS, lx=E_LINE_X, ly=E_LINE_Y),
 dict(l=1136, r=1511, t=564, b=915, xr=[3.99, 6.58], yr=[0, 14], xt=HBA1C_TICKS, yt=Y_TICKS_BOTTOM, nx=1292, ny=575.5, tcx=1323, tcy=985, ycx=1070, ycy=745, xsd=5, bx=1542, by=917, cols=F_COLS, lx=F_LINE_X, ly=F_LINE_Y),
]

def px(v): return v / W
def py(v): return 1 - v / H

fig = go.Figure()
layout = dict(width=W, height=H, autosize=False, margin=dict(l=0, r=0, t=0, b=0, pad=0, autoexpand=False),
              paper_bgcolor="white", plot_bgcolor="white", showlegend=False,
              font=dict(family=SERIF, color=TEXT, size=22))
anns, shapes = [], []

for i, p in enumerate(P):
    n = "" if i == 0 else str(i + 1)
    xs, ys = [], []
    for x, col in p["cols"]:
        for y in col:
            xs.append(x)
            ys.append(y)
    fig.add_trace(go.Scatter(x=p["lx"], y=p["ly"], mode="lines", line=dict(color=RED, width=3.2),
                             xaxis="x" + n, yaxis="y" + n, hoverinfo="skip"))
    fig.add_trace(go.Scatter(x=xs, y=ys, mode="markers", xaxis="x" + n, yaxis="y" + n,
                             marker=dict(symbol="square", size=7, color=DOT, line=dict(width=0))))
    common = dict(showgrid=False, zeroline=False, showline=True, linecolor=AXIS, linewidth=2,
                  ticks="inside", ticklen=9, tickwidth=2, tickcolor=AXIS, automargin=False,
                  tickfont=dict(family=SERIF, size=24, color=TEXT), tickmode="array", fixedrange=True)
    layout["xaxis" + n] = dict(common, domain=[px(p["l"]), px(p["r"])], range=p["xr"], tickvals=p["xt"],
                               ticktext=[("%.1f" % v if i in (2, 5) else str(v)) for v in p["xt"]],
                               anchor="y" + n, ticklabelstandoff=p["xsd"])
    layout["yaxis" + n] = dict(common, domain=[py(p["b"]), py(p["t"])], range=p["yr"], tickvals=p["yt"],
                               anchor="x" + n, ticklabelstandoff=12)
    for k, line in enumerate(NOTES[i]):
        anns.append(dict(xref="paper", yref="paper", x=px(p["nx"]), y=py(p["ny"] + 21.4 * k), text=line,
                         showarrow=False, xanchor="left", yanchor="middle",
                         font=dict(family=SERIF, size=19.6, color=TEXT)))
    anns.append(dict(xref="paper", yref="paper", x=px(p["tcx"]), y=py(p["tcy"]), text=X_TITLES[i],
                     showarrow=False, xanchor="center", yanchor="middle",
                     font=dict(family=SERIF, size=23.4, color=TEXT)))
    anns.append(dict(xref="paper", yref="paper", x=px(p["ycx"]), y=py(p["ycy"]), text=Y_TITLES[i],
                     showarrow=False, xanchor="center", yanchor="middle", textangle=-90,
                     font=dict(family=SERIF, size=23.4, color=TEXT)))
    r = 17.3
    shapes.append(dict(type="circle", xref="paper", yref="paper", x0=px(p["bx"] - r), x1=px(p["bx"] + r),
                       y0=py(p["by"] + r), y1=py(p["by"] - r), fillcolor="#111111", line=dict(width=0)))
    anns.append(dict(xref="paper", yref="paper", x=px(p["bx"]), y=py(p["by"]), text="<b>%s</b>" % PANEL_LETTERS[i],
                     showarrow=False, xanchor="center", yanchor="middle",
                     font=dict(family="Liberation Sans", size=24, color="white")))

layout["annotations"] = anns
layout["shapes"] = shapes
fig.update_layout(**layout)
fig.write_html("out.html", post_script="document.body.style.margin='0';", config=dict(displayModeBar=False))
